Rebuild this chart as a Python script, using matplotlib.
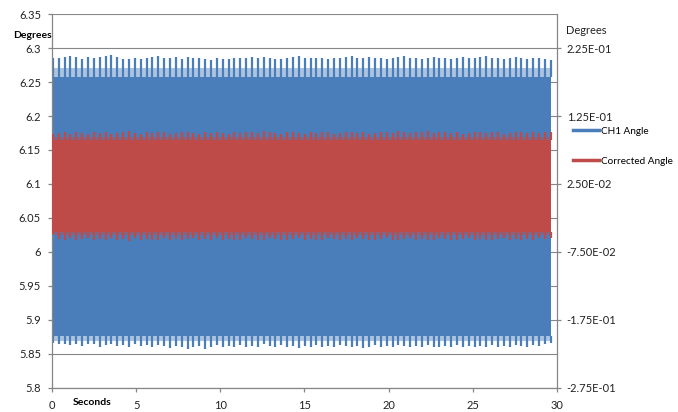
import numpy as np
import matplotlib
matplotlib.use('Agg')
import matplotlib.pyplot as plt
from matplotlib.lines import Line2D

plt.rcParams['font.family'] = ['Lato', 'DejaVu Sans']

ch1_peaks = [6.285, 6.286, 6.287, 6.288, 6.287, 6.284, 6.287, 6.286, 6.287, 6.288, 6.289, 6.287, 6.284, 6.284, 6.285, 6.284, 6.286, 6.287, 6.288, 6.286,
             6.286, 6.287, 6.284, 6.287, 6.285, 6.286, 6.284, 6.283, 6.285, 6.284, 6.284, 6.285, 6.286, 6.286, 6.287, 6.285, 6.287, 6.285, 6.284, 6.284,
             6.285, 6.287, 6.288, 6.286, 6.285, 6.286, 6.285, 6.284, 6.286, 6.285, 6.287, 6.288, 6.286, 6.285, 6.287, 6.286, 6.285, 6.284, 6.286, 6.287,
             6.288, 6.286, 6.285, 6.284, 6.286, 6.287, 6.285, 6.286, 6.284, 6.285, 6.287, 6.286, 6.285, 6.287, 6.288, 6.286, 6.285, 6.284, 6.286, 6.287,
             6.285, 6.284, 6.286, 6.285, 6.284, 6.283]
ch1_troughs = [5.866, 5.864, 5.865, 5.863, 5.864, 5.862, 5.864, 5.865, 5.861, 5.863, 5.864, 5.862, 5.863, 5.861, 5.864, 5.862, 5.863, 5.861, 5.863, 5.862,
               5.859, 5.862, 5.861, 5.857, 5.860, 5.862, 5.858, 5.861, 5.863, 5.860, 5.862, 5.861, 5.863, 5.860, 5.862, 5.861, 5.864, 5.862, 5.860, 5.863,
               5.861, 5.862, 5.859, 5.862, 5.861, 5.863, 5.860, 5.862, 5.861, 5.863, 5.862, 5.860, 5.862, 5.859, 5.861, 5.863, 5.860, 5.862, 5.861, 5.863,
               5.862, 5.860, 5.862, 5.861, 5.863, 5.860, 5.861, 5.862, 5.860, 5.863, 5.861, 5.862, 5.860, 5.862, 5.861, 5.863, 5.860, 5.862, 5.861, 5.863,
               5.862, 5.861, 5.863, 5.862, 5.864, 5.866]
ch1_core = (5.877, 6.257)
ch1_shoulder = (5.869, 6.270)

# corrected angle (right axis, degrees)
corr_peaks = [0.099, 0.100, 0.101, 0.099, 0.102, 0.100, 0.098, 0.101, 0.100, 0.102, 0.099, 0.100, 0.101, 0.103, 0.100, 0.099, 0.101, 0.100, 0.102, 0.101,
              0.099, 0.100, 0.102, 0.101, 0.100, 0.099, 0.101, 0.100, 0.102, 0.100, 0.099, 0.101, 0.100, 0.102, 0.101, 0.100, 0.103, 0.101, 0.100, 0.099,
              0.101, 0.102, 0.100, 0.099, 0.101, 0.100, 0.102, 0.101, 0.099, 0.100, 0.101, 0.102, 0.100, 0.101, 0.099, 0.100, 0.102, 0.101, 0.100, 0.103,
              0.101, 0.100, 0.102, 0.101, 0.103, 0.100, 0.101, 0.102, 0.100, 0.101, 0.099, 0.100, 0.102, 0.101, 0.100, 0.102, 0.101, 0.099, 0.100, 0.101,
              0.102, 0.100, 0.101, 0.100, 0.102, 0.101]
corr_troughs = [-0.048, -0.056, -0.057, -0.055, -0.058, -0.056, -0.055, -0.057, -0.056, -0.058, -0.055, -0.057, -0.056, -0.059, -0.055, -0.057, -0.056, -0.058, -0.057, -0.055,
                -0.057, -0.056, -0.058, -0.056, -0.055, -0.057, -0.056, -0.058, -0.055, -0.057, -0.056, -0.058, -0.057, -0.055, -0.056, -0.058, -0.057, -0.055, -0.056, -0.057,
                -0.058, -0.056, -0.055, -0.057, -0.056, -0.058, -0.057, -0.055, -0.056, -0.058, -0.056, -0.057, -0.055, -0.056, -0.058, -0.057, -0.056, -0.055, -0.057, -0.058,
                -0.056, -0.055, -0.057, -0.056, -0.058, -0.057, -0.055, -0.056, -0.057, -0.058, -0.056, -0.055, -0.057, -0.056, -0.058, -0.057, -0.056, -0.055, -0.057, -0.056,
                -0.058, -0.056, -0.057, -0.055, -0.056, -0.054]
corr_core = (-0.046, 0.089)
corr_shoulder = (-0.050, 0.094)

t_start, t_end = 0.05, 29.63
seconds = np.linspace(t_start, t_end, len(ch1_peaks))

blue = '#4a7ebb'
red = '#be4b48'
gray = '#868686'

fig = plt.figure(figsize=(6.78, 4.12), dpi=100)
ax = fig.add_axes([0.0767, 0.0583, 0.7448, 0.9077])
ax2 = ax.twinx()

# CH1 angle band
ax.fill_between([0, t_end], ch1_shoulder[0], ch1_shoulder[1], color=blue, alpha=0.45, lw=0)
ax.fill_between([0, t_end], ch1_core[0], ch1_core[1], color=blue, lw=0)
ax.vlines(seconds, ch1_core[1], ch1_peaks, color=blue, lw=1.6)
ax.vlines(seconds, ch1_troughs, ch1_core[0], color=blue, lw=1.6)

# corrected angle band
ax2.fill_between([0, t_end], corr_shoulder[0], corr_shoulder[1], color=red, alpha=0.45, lw=0)
ax2.fill_between([0, t_end], corr_core[0], corr_core[1], color=red, lw=0)
ax2.vlines(seconds, corr_core[1], corr_peaks, color=red, lw=1.6)
ax2.vlines(seconds, corr_troughs, corr_core[0], color=red, lw=1.6)

ax.set_xlim(0, 30)
ax.set_ylim(5.8, 6.35)
ax2.set_ylim(-0.275, 0.275)
ax.set_xticks(np.arange(0, 31, 5))
ax.set_yticks(np.arange(5.8, 6.351, 0.05))
ax.set_yticklabels(['5.8', '5.85', '5.9', '5.95', '6', '6.05', '6.1', '6.15', '6.2', '6.25', '6.3', '6.35'])
rt = [-0.275, -0.175, -0.075, 0.025, 0.125, 0.225]
ax2.set_yticks(rt)
ax2.set_yticklabels(['-2.75E-01', '-1.75E-01', '-7.50E-02', '2.50E-02', '1.25E-01', '2.25E-01'])

ax.grid(axis='y', color=gray, lw=0.8)
ax.set_axisbelow(True)
for a in (ax, ax2):
    for s in a.spines.values():
        s.set_color(gray)
        s.set_linewidth(0.9)
    a.spines['top'].set_visible(False)
ax.spines['right'].set_visible(False)
ax2.spines['left'].set_visible(False)
ax2.spines['bottom'].set_visible(False)

ax.tick_params(axis='both', colors=gray, labelcolor='#222222', labelsize=8, length=3, width=0.9)
ax.tick_params(axis='x', pad=6)
ax.tick_params(axis='y', pad=5)
ax2.tick_params(axis='y', colors=gray, labelcolor='#222222', labelsize=8, length=3, width=0.9, pad=4)

fig.text(0.019, 0.915, 'Degrees', fontsize=7.5, fontweight='bold', va='center')
fig.text(0.835, 0.925, 'Degrees', fontsize=8, va='center', color='#222222')
fig.text(0.108, 0.022, 'Seconds', fontsize=7.5, fontweight='bold', va='center')

handles = [Line2D([], [], color=blue, lw=2.5), Line2D([], [], color=red, lw=2.5)]
fig.legend(handles, ['CH1 Angle', 'Corrected Angle'], loc='upper left', bbox_to_anchor=(0.838, 0.705),
           frameon=False, fontsize=7.2, borderpad=0, handlelength=2.6, handletextpad=0.2, labelspacing=2.1)

plt.savefig('out.png')
